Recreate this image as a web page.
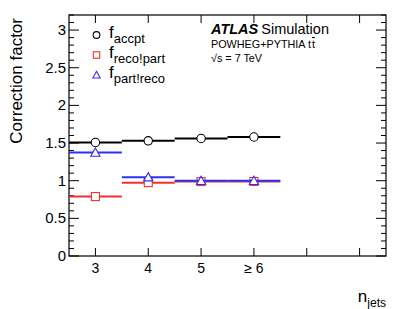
<!DOCTYPE html>
<html>
<head>
<meta charset="utf-8">
<script src="https://cdn.jsdelivr.net/npm/d3@7"></script>
<style>
	body { margin: 0; background: #fff; }
	text { font-family: "Liberation Sans", Arial, sans-serif; }
</style>
</head>
<body>
<div id="chart"></div>
<script>
const width = 407;
const height = 309;

const NJETS = [3, 4, 5, 6];
const TICK_LABELS = ["3", "4", "5", "\u2265 6"];
const ACCPT = [1.507, 1.529, 1.56, 1.58];
const ACCPT_ERR = [0.01, 0.01, 0.012, 0.02];
const RECO_PART = [0.789, 0.974, 0.988, 0.99];
const RECO_PART_ERR = [0.005, 0.005, 0.008, 0.01];
const PART_RECO = [1.374, 1.046, 0.998, 0.998];
const PART_RECO_ERR = [0.005, 0.005, 0.008, 0.01];
const Y_TICKS = [0, 0.5, 1, 1.5, 2, 2.5, 3];

const margin = { left: 69, right: 21, top: 15, bottom: 53 };

let svg = d3
	.select("#chart")
	.append("svg")
	.attr("width", width)
	.attr("height", height);

const x = d3
	.scaleLinear()
	.domain([2.5, 8.5])
	.range([margin.left, width - margin.right]);
const y = d3
	.scaleLinear()
	.domain([0, 3.2])
	.range([height - margin.bottom, margin.top]);

const x0 = x.range()[0];
const x1 = x.range()[1];
const y0 = y.range()[0];
const y1 = y.range()[1];

// frame
svg.append("rect")
	.attr("x", x0).attr("y", y1)
	.attr("width", x1 - x0).attr("height", y0 - y1)
	.attr("fill", "none").attr("stroke", "#000").attr("stroke-width", 1.2);

// y ticks (left + right, inward)
const yMinor = d3.range(0, 3.21, 0.1);
yMinor.forEach((v) => {
	const major = Math.abs(v * 2 - Math.round(v * 2)) < 1e-6;
	const len = major ? 10 : 5;
	svg.append("line")
		.attr("x1", x0).attr("x2", x0 + len)
		.attr("y1", y(v)).attr("y2", y(v))
		.attr("stroke", "#000");
	svg.append("line")
		.attr("x1", x1).attr("x2", x1 - len)
		.attr("y1", y(v)).attr("y2", y(v))
		.attr("stroke", "#000");
});

svg.selectAll(".ylab")
	.data(Y_TICKS)
	.join("text")
	.attr("class", "ylab")
	.attr("x", x0 - 3)
	.attr("y", (d) => y(d) + 5)
	.attr("text-anchor", "end")
	.attr("font-size", "15px")
	.text((d) => d);

// x ticks (bottom + top, inward)
d3.range(3, 9).forEach((v) => {
	svg.append("line")
		.attr("x1", x(v)).attr("x2", x(v))
		.attr("y1", y0).attr("y2", y0 - 8)
		.attr("stroke", "#000");
	svg.append("line")
		.attr("x1", x(v)).attr("x2", x(v))
		.attr("y1", y1).attr("y2", y1 + 8)
		.attr("stroke", "#000");
});

svg.selectAll(".xlab")
	.data(NJETS)
	.join("text")
	.attr("class", "xlab")
	.attr("x", (d) => x(d))
	.attr("y", y0 + 17)
	.attr("text-anchor", "middle")
	.attr("font-size", "14px")
	.text((d, i) => TICK_LABELS[i]);

// axis titles
svg.append("text")
	.attr("transform", "translate(22," + (y1 + 3) + ") rotate(-90)")
	.attr("text-anchor", "end")
	.attr("font-size", "17px")
	.text("Correction factor");

const xt = svg.append("text")
	.attr("x", x1)
	.attr("y", 302)
	.attr("text-anchor", "end")
	.attr("font-size", "17px");
xt.append("tspan").text("n");
xt.append("tspan").attr("font-size", "12px").attr("dy", 5).text("jets");

// series
const series = [
	{ vals: ACCPT, err: ACCPT_ERR, color: "#000", marker: "circle" },
	{ vals: RECO_PART, err: RECO_PART_ERR, color: "#f03030", marker: "square" },
	{ vals: PART_RECO, err: PART_RECO_ERR, color: "#3030f0", marker: "triangle" },
];

function drawMarker(g, type, cx, cy, color, k) {
	k = k || 1;
	if (type === "circle") {
		g.append("circle")
			.attr("cx", cx).attr("cy", cy).attr("r", 4.2 * k)
			.attr("fill", "#fff").attr("stroke", color).attr("stroke-width", 1.1);
	} else if (type === "square") {
		g.append("rect")
			.attr("x", cx - 4 * k).attr("y", cy - 4 * k)
			.attr("width", 8 * k).attr("height", 8 * k)
			.attr("fill", "#fff").attr("stroke", color).attr("stroke-width", 1.1);
	} else {
		const s = 4.6 * k;
		g.append("path")
			.attr("d", "M" + cx + "," + (cy - s) + "L" + (cx + s) + "," + (cy + s * 0.8) + "L" + (cx - s) + "," + (cy + s * 0.8) + "Z")
			.attr("fill", "#fff").attr("stroke", color).attr("stroke-width", 1.1);
	}
}

series.forEach((s) => {
	const g = svg.append("g");
	s.vals.forEach((v, i) => {
		const n = NJETS[i];
		g.append("line")
			.attr("x1", x(n - 0.5)).attr("x2", x(n + 0.5))
			.attr("y1", y(v)).attr("y2", y(v))
			.attr("stroke", s.color).attr("stroke-width", 2);
		g.append("line")
			.attr("x1", x(n)).attr("x2", x(n))
			.attr("y1", y(v - s.err[i])).attr("y2", y(v + s.err[i]))
			.attr("stroke", s.color).attr("stroke-width", 1);
		drawMarker(g, s.marker, x(n), y(v), s.color);
	});
});

// legend
const legend = [
	{ marker: "circle", color: "#000", sub: "accpt" },
	{ marker: "square", color: "#f03030", sub: "reco!part" },
	{ marker: "triangle", color: "#3030f0", sub: "part!reco" },
];
legend.forEach((l, i) => {
	const ly = 35 + i * 20;
	drawMarker(svg.append("g"), l.marker, 96.5, ly, l.color, 0.8);
	const t = svg.append("text")
		.attr("x", 109)
		.attr("y", ly + 3)
		.attr("font-size", "17px");
	t.append("tspan").text("f");
	t.append("tspan").attr("font-size", "13px").attr("dy", 5).text(l.sub);
});

// ATLAS label
const atl = svg.append("text").attr("x", 211).attr("y", 34).attr("font-size", "14.5px");
atl.append("tspan").attr("font-weight", "bold").attr("font-style", "italic").text("ATLAS");
atl.append("tspan").attr("dx", 3).text("Simulation");

const gen = svg.append("text")
	.attr("x", 211).attr("y", 48)
	.attr("font-size", "10.8px");
gen.append("tspan").text("POWHEG+PYTHIA t");
gen.append("tspan").attr("dx", 1).style("text-decoration", "overline").text("t");

svg.append("text")
	.attr("x", 211).attr("y", 62)
	.attr("font-size", "10.8px")
	.text("\u221As = 7 TeV");
</script>
</body>
</html>
